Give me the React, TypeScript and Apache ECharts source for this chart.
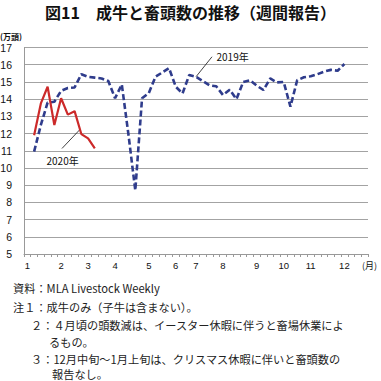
import React, { useEffect, useRef } from "react";
import * as echarts from "echarts";

// ---- data ----
const weekCategories: string[] = Array.from({ length: 51 }, (_, i) => String(i + 1));
const monthLabels = ["1", "2", "3", "4", "5", "6", "7", "8", "9", "10", "11", "12"];
const monthWeekIdx = [0, 5, 9, 13, 18, 22, 25, 29, 34, 38, 42, 47];

const cattle2019: (number | null)[] = [
  null, 10.95, 12.5, 13.8, 13.85, 14.48, 14.65, 14.68, 15.45, 15.3, 15.25,
  15.2, 15.05, 14.05, 14.85, 11.9, 8.7, 14.05, 14.35, 15.3, 15.55,
  15.8, 14.72, 14.33, 15.4, 15.3, 15.05, 14.8, 14.75, 14.24, 14.55,
  14.0, 15.0, 15.1, 14.78, 14.53, 15.2, 14.97, 15.0, 13.56, 15.1,
  15.27, 15.33, 15.45, 15.6, 15.7, 15.65, 16.04, null, null, null,
];
const cattle2020: (number | null)[] = [
  null, 11.9, 13.75, 14.72, 12.5, 14.05, 13.1, 13.3, 11.97, 11.72, 11.14,
];

const yMin = 5;
const yMax = 17;

const titleText = "図11　成牛と畜頭数の推移（週間報告）";
const unitText = "(万頭)";
const monthUnitText = "(月)";
const noteLines = [
  { text: "資料：MLA Livestock Weekly", x: 13, y: 288 },
  { text: "注１：成牛のみ（子牛は含まない）。", x: 13, y: 306.5 },
  { text: "２：４月頃の頭数減は、イースター休暇に伴うと畜場休業によ", x: 31, y: 325 },
  { text: "るもの。", x: 49, y: 341.5 },
  { text: "３：12月中旬～1月上旬は、クリスマス休暇に伴いと畜頭数の", x: 31, y: 359 },
  { text: "報告なし。", x: 52, y: 374 },
];

const JP = '"Noto Sans CJK JP", "Liberation Sans", sans-serif';
const LAT = '"Liberation Sans", Arial, sans-serif';

export default function App() {
  const ref = useRef<HTMLDivElement>(null);
  useEffect(() => {
    document.body.style.margin = "0";
    if (!ref.current) return;
    const chart = echarts.init(ref.current, null, { renderer: "svg" });
    const option: any = {
      animation: false,
      backgroundColor: "#ffffff",
      grid: {
        left: 24,
        right: 13,
        top: 47.5,
        bottom: 127,
        containLabel: false,
        outerBoundsMode: "none",
      },
      xAxis: {
        type: "category",
        data: weekCategories,
        boundaryGap: true,
        axisLine: { lineStyle: { color: "#999999", width: 1 } },
        axisTick: { show: true, interval: 0, length: 3, lineStyle: { color: "#999999" } },
        axisLabel: {
          interval: 0,
          margin: 6,
          fontSize: 9.5,
          color: "#111",
          fontFamily: LAT,
          formatter: (_v: string, idx: number) => {
            const k = monthWeekIdx.indexOf(idx);
            return k >= 0 ? monthLabels[k] : "";
          },
        },
        splitLine: { show: false },
      },
      yAxis: {
        type: "value",
        min: yMin,
        max: yMax,
        interval: 1,
        axisLine: { show: true, lineStyle: { color: "#999999", width: 1 } },
        axisTick: { show: false },
        axisLabel: { fontSize: 10.5, color: "#111", margin: 12, fontFamily: LAT },
        splitLine: { lineStyle: { color: "#a3a3a3", width: 1 } },
      },
      series: [
        {
          name: "2019年",
          type: "line",
          data: cattle2019,
          showSymbol: false,
          symbol: "none",
          lineStyle: { color: "#2f3c8c", width: 2.6, type: [6, 3] },
          z: 2,
        },
        {
          name: "2020年",
          type: "line",
          data: cattle2020,
          showSymbol: false,
          symbol: "none",
          lineStyle: { color: "#cc2a2a", width: 2.2 },
          z: 3,
        },
      ],
    };
    chart.setOption(option);

    const px = (i: number, v: number) => chart.convertToPixel({ seriesIndex: 0 }, [i, v]) as number[];
    const a19 = px(25, cattle2019[25] as number);
    const p7 = px(7, cattle2020[7] as number);
    const p8 = px(8, cattle2020[8] as number);
    const f = 0.8;
    const a20 = [p7[0] + f * (p8[0] - p7[0]), p7[1] + f * (p8[1] - p7[1])];

    const graphics: any[] = [
      {
        type: "text",
        x: 190.5,
        y: 11.5,
        style: {
          text: titleText,
          fill: "#111",
          font: `bold 16px ${JP}`,
          align: "center",
          verticalAlign: "middle",
        },
      },
      {
        type: "text",
        x: 0,
        y: 36,
        style: { text: unitText, fill: "#111", font: `bold 8px ${JP}`, verticalAlign: "middle" },
      },
      {
        type: "text",
        x: 362,
        y: 265,
        style: { text: monthUnitText, fill: "#111", font: `9px ${JP}`, verticalAlign: "middle" },
      },
      {
        type: "line",
        shape: { x1: a19[0], y1: a19[1], x2: a19[0] + 16, y2: a19[1] - 20 },
        style: { stroke: "#111", lineWidth: 0.8 },
      },
      {
        type: "text",
        x: a19[0] + 20.5,
        y: a19[1] - 20,
        style: { text: "2019年", fill: "#111", font: `10px ${JP}`, verticalAlign: "middle" },
      },
      {
        type: "line",
        shape: { x1: a20[0], y1: a20[1], x2: a20[0] - 18, y2: a20[1] + 19 },
        style: { stroke: "#111", lineWidth: 0.8 },
      },
      {
        type: "text",
        x: a20[0] - 33.5,
        y: a20[1] + 31.5,
        style: { text: "2020年", fill: "#111", font: `10px ${JP}`, verticalAlign: "middle" },
      },
      ...noteLines.map((n) => ({
        type: "text",
        x: n.x,
        y: n.y,
        style: { text: n.text, fill: "#222", font: `11.2px ${JP}`, verticalAlign: "middle" },
      })),
    ];
    chart.setOption({ graphic: graphics });

    return () => chart.dispose();
  }, []);
  return <div ref={ref} style={{ width: 381, height: 381 }} />;
}
